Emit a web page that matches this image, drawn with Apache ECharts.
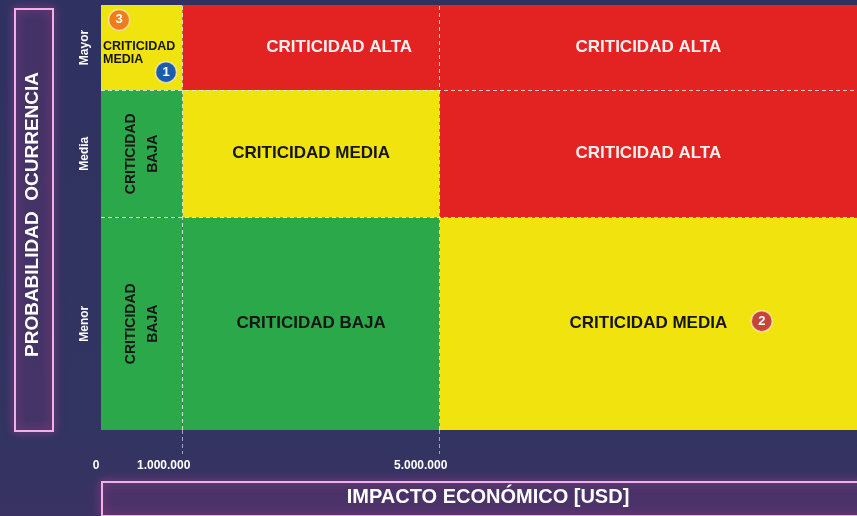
<!DOCTYPE html>
<html>
<head>
<meta charset="utf-8">
<script src="https://cdn.jsdelivr.net/npm/echarts@6/dist/echarts.min.js"></script>
<style>
  html, body { margin: 0; padding: 0; background: #313360; }
  #riskMatrix { width: 857px; height: 516px; }
</style>
</head>
<body>
<div id="riskMatrix"></div>
<script>
// axis labels
const xLabels = ["0", "1.000.000", "5.000.000"];
const yCategories = ["Menor", "Media", "Mayor"];
// band edges along each axis (display units, 0-100)
const xBreaks = [0, 10.8, 44.8, 100];
const yBreaks = [0, 50, 80, 100];
// criticality per row (Menor, Media, Mayor) and column
const cellLevels = [
  ["BAJA", "BAJA", "MEDIA"],
  ["BAJA", "MEDIA", "ALTA"],
  ["MEDIA", "ALTA", "ALTA"]
];
// numbered risks
const pointIds = ["1", "2", "3"];
const pointX = [8.6, 87.4, 2.4];
const pointY = [84.2, 25.6, 96.5];

const levelColor = { BAJA: "#2ba84a", MEDIA: "#f0e30e", ALTA: "#e32322" };
const pointColor = ["#1a5cad", "#c4453a", "#ef7d1c"];
const font = "Liberation Sans";

var cells = [];
for (let r = 0; r < yCategories.length; r++) {
  for (let c = 0; c < 3; c++) {
    cells.push([xBreaks[c], xBreaks[c + 1], yBreaks[r], yBreaks[r + 1], r, c]);
  }
}

function renderCell(params, api) {
  var p0 = api.coord([api.value(0), api.value(2)]);
  var p1 = api.coord([api.value(1), api.value(3)]);
  var r = api.value(4), c = api.value(5);
  var level = cellLevels[r][c];
  var x = p0[0], y = p1[1], w = p1[0] - p0[0], h = p0[1] - p1[1];
  var textColor = level === "ALTA" ? "#fbeeee" : "#151515";
  var text;
  if (c === 0 && r === 2) {
    // small corner cell
    text = { type: "text", style: { x: x + 2, y: y + h * 0.56, text: "CRITICIDAD\nMEDIA", fill: textColor,
      font: "bold 12.5px " + font, align: "left", verticalAlign: "middle", lineHeight: 13 } };
  } else if (c === 0) {
    text = { type: "text", x: x + w / 2, y: y + h / 2, rotation: Math.PI / 2, style: { x: 0, y: 0,
      text: "CRITICIDAD\nBAJA", fill: textColor, font: "bold 14px " + font,
      align: "center", verticalAlign: "middle", lineHeight: 22 } };
  } else {
    var dx = (r === 2 && c === 1) ? 28 : 0;
    text = { type: "text", style: { x: x + w / 2 + dx, y: y + h / 2, text: "CRITICIDAD " + level,
      fill: textColor, font: "bold 17px " + font, align: "center", verticalAlign: "middle" } };
  }
  return {
    type: "group",
    children: [
      { type: "rect", shape: { x: x, y: y, width: w, height: h }, style: { fill: levelColor[level] } },
      text
    ]
  };
}

var chart = echarts.init(document.getElementById("riskMatrix"));
var dashed = { color: "rgba(255,255,255,0.75)", type: [4, 3], width: 1 };
var boxStyle = { fill: "rgba(90,40,95,0.12)", stroke: "#f2b0e6", lineWidth: 2, shadowColor: "#c84aa8", shadowBlur: 10 };
var option = {
  backgroundColor: {
    type: "linear", x: 0, y: 0, x2: 0, y2: 1,
    colorStops: [
      { offset: 0, color: "#2f3260" },
      { offset: 0.85, color: "#323461" },
      { offset: 1, color: "#3a3262" }
    ]
  },
  animation: false,
  graphic: [
    { type: "rect", left: 14, top: 8, shape: { width: 38, height: 422 }, z: -1, style: boxStyle },
    { type: "rect", left: 101, top: 481, shape: { width: 780, height: 34 }, z: -1, style: boxStyle }
  ],
  grid: { left: 101, right: 0, top: 5, bottom: 86 },
  xAxis: {
    type: "value", min: 0, max: 100,
    axisLine: { show: false },
    splitLine: { show: false },
    axisTick: {
      show: true, customValues: [xBreaks[1], xBreaks[2]], length: 24,
      lineStyle: { color: "rgba(255,255,255,0.55)", type: [4, 3] }
    },
    axisLabel: {
      customValues: xBreaks.slice(0, 3), margin: 30,
      formatter: function (v) {
        var i = xBreaks.indexOf(v);
        return i === 0 ? "{a|" + xLabels[0] + "}" : "{b|" + xLabels[i] + "}";
      },
      rich: {
        a: { color: "#fff", fontFamily: font, fontWeight: "bold", fontSize: 12, padding: [0, 10, 0, 0] },
        b: { color: "#fff", fontFamily: font, fontWeight: "bold", fontSize: 12, padding: [0, 38, 0, 0] }
      }
    },
    name: "IMPACTO ECONÓMICO [USD]",
    nameLocation: "middle",
    nameGap: 57,
    nameTextStyle: { color: "#fff", fontFamily: font, fontWeight: "bold", fontSize: 20, padding: [0, 0, 0, 18] }
  },
  yAxis: {
    type: "value", min: 0, max: 100,
    axisLine: { show: false },
    splitLine: { show: false },
    axisTick: { show: false },
    axisLabel: {
      customValues: [25, 65, 90], rotate: 90, margin: 10,
      color: "#fff", fontFamily: font, fontWeight: "bold", fontSize: 12,
      formatter: function (v) { return yCategories[[25, 65, 90].indexOf(v)]; }
    },
    name: "PROBABILIDAD  OCURRENCIA",
    nameLocation: "middle",
    nameGap: 59,
    nameTextStyle: { color: "#fff", fontFamily: font, fontWeight: "bold", fontSize: 19, padding: [0, 0, 0, 6] }
  },
  series: [
    {
      type: "custom",
      renderItem: renderCell,
      data: cells,
      encode: { x: [0, 1], y: [2, 3] },
      silent: true,
      markLine: {
        silent: true, symbol: "none", label: { show: false }, lineStyle: dashed,
        data: [
          { xAxis: xBreaks[1] }, { xAxis: xBreaks[2] },
          { yAxis: yBreaks[1] }, { yAxis: yBreaks[2] }
        ]
      }
    },
    {
      type: "scatter",
      symbolSize: 21,
      data: pointIds.map(function (id, i) {
        return {
          value: [pointX[i], pointY[i]], name: id,
          itemStyle: { color: pointColor[i], opacity: 1, borderColor: "rgba(255,235,210,0.7)", borderWidth: 1.5 }
        };
      }),
      label: {
        show: true, position: "inside", formatter: "{b}",
        color: "#fff", fontFamily: font, fontWeight: "bold", fontSize: 13
      },
      z: 5
    }
  ]
};
option && chart.setOption(option);
</script>
</body>
</html>
